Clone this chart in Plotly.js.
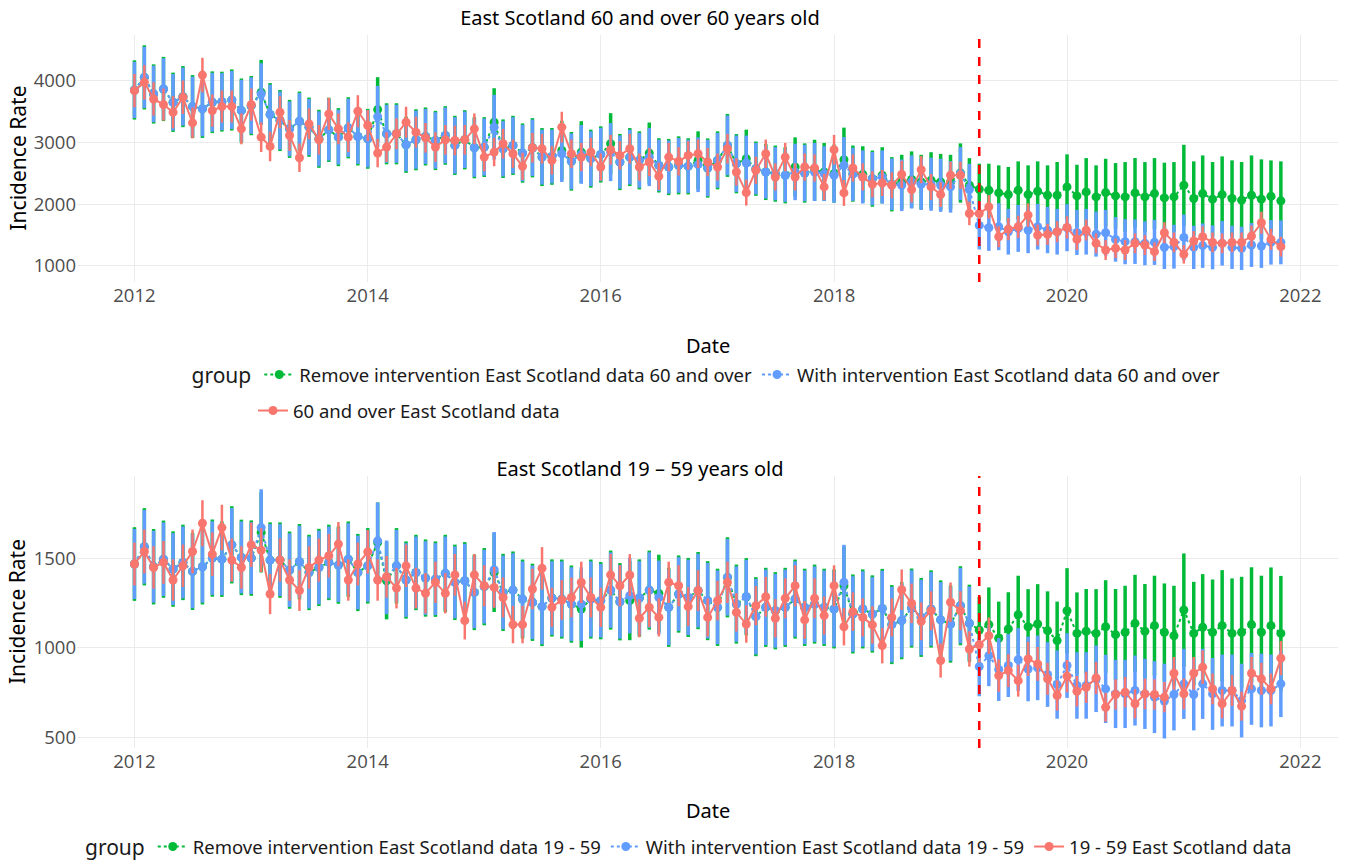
<!DOCTYPE html>
<html><head><meta charset="utf-8">
<script src="https://cdn.plot.ly/plotly-3.0.1.min.js"></script>
<style>
html,body{margin:0;padding:0;background:#fff;}
#top{position:absolute;left:0;top:0;width:1345px;height:440px;}
#bot{position:absolute;left:0;top:440px;width:1345px;height:421px;}
</style>
</head><body><div id="top"></div><div id="bot"></div>
<script>
// ---- categories (monthly, Jan 2012 - Nov 2021) ----
const startYear = 2012, nMonths = 119;
const months = [];
for (let i = 0; i < nMonths; i++) {
  const y = startYear + Math.floor(i / 12), m = i % 12 + 1;
  months.push(y + '-' + String(m).padStart(2, '0') + '-01');
}
const interventionDate = '2019-04-01';
const yearTickVals = ['2012-01-01','2014-01-01','2016-01-01','2018-01-01','2020-01-01','2022-01-01'];
const yearTickText = ['2012','2014','2016','2018','2020','2022'];

// ---- 60 and over ----
const obs60 = [3839,3973,3704,3613,3489,3731,3317,4091,3516,3581, 3581,3220,3613,3086,2936,3489,3113,2753,3301,3043,
  3462,3220,3086,3505,3274,2828,2925,3140,3328,3167, 3075,2925,3043,3032,3043,3220,2763,2844,2979,2817,
  2613,2914,2898,2710,3247,2817,2763,2844,2602,2882, 2790,2898,2602,2683,2452,2763,2694,2790,2817,2683,
  2602,2898,2522,2188,2549,2817,2441,2763,2441,2602, 2586,2280,2882,2183,2586,2441,2323,2344,2306,2484,
  2237,2559,2280,2156,2468,2468,1850,
  1850,1957,1473,1597,1635,1823,1500,1511,1554,1624,1430,1581,1366,1258,1285,1258,1366,1339,1231,1538,1382,1188,1404,1473,1382,1366,1382,1382,1484,1699,1430,1312];
const obs60Err = [270,280,270,260,260,270,250,280,260,260, 260,250,260,240,240,260,250,230,250,240,
  260,250,240,260,250,230,240,250,250,250, 240,240,240,240,240,250,230,230,240,230,
  220,240,240,230,250,230,230,230,220,240, 230,240,220,230,220,230,230,230,230,230,
  220,240,220,210,220,230,220,230,220,220, 220,210,240,210,220,220,210,210,210,220,
  210,220,210,200,220,220,190,
  190,190,170,180,180,190,170,170,170,180,170,170,160,160,160,160,160,160,150,170,160,150,160,170,160,160,160,160,170,180,170,160];
const withInt60 = [3850,4054,3785,3866,3651,3742,3581,3543,3651,3661, 3688,3516,3597,3785,3452,3355,3220,3344,3247,3059,
  3204,3086,3237,3097,3059,3419,3140,3140,2962,3043, 3097,3032,3113,2952,3043,2914,2925,3247,2898,2952,
  2828,2914,2763,2774,2817,2694,2806,2737,2806,2844, 2683,2763,2710,2763,2629,2602,2629,2613,2640,2586,
  2710,2952,2656,2667,2575,2522,2495,2468,2522,2505, 2522,2495,2468,2629,2484,2441,2414,2441,2323,2306,
  2360,2323,2323,2306,2280,2495,2237,
  1657,1619,1635,1554,1608,1581,1635,1581,1554,1619,1543,1554,1516,1538,1430,1393,1393,1366,1382,1301,1312,1462,1301,1328,1301,1366,1301,1285,1339,1323,1382,1382];
const withInt60Err = [455,495,457,497,457,470,484,444,476,462, 470,497,457,497,484,470,444,457,457,444,
  497,444,470,444,462,497,470,470,430,470, 444,457,452,457,457,470,462,524,449,457,
  457,457,444,435,457,452,476,444,430,470, 430,444,444,470,417,430,444,430,444,457,
  444,484,457,444,417,430,430,430,457,457, 470,444,444,457,430,430,430,430,417,417,
  430,417,430,430,417,430,417,
  390,375,380,370,380,375,370,375,370,380,365,370,365,370,360,365,360,355,365,350,355,370,350,360,355,360,350,350,355,355,360,355];
const noInt60 = [3850,4054,3785,3866,3651,3742,3581,3543,3651,3661, 3688,3516,3597,3812,3452,3355,3220,3344,3247,3059,
  3204,3086,3237,3097,3059,3532,3140,3140,2962,3043, 3097,3032,3113,2952,3043,2914,2925,3328,2898,2952,
  2828,2914,2763,2774,2871,2694,2844,2737,2806,2979, 2683,2763,2710,2828,2629,2602,2629,2613,2710,2586,
  2710,2952,2656,2737,2575,2522,2495,2468,2602,2505, 2549,2522,2495,2720,2495,2484,2414,2468,2323,2360,
  2400,2360,2387,2360,2360,2505,2306,
  2242,2226,2183,2156,2226,2156,2210,2145,2145,2280,2134,2199,2118,2188,2134,2118,2183,2118,2172,2102,2118,2306,2092,2172,2081,2156,2092,2065,2145,2081,2129,2054];
const noInt60Err = [480,520,480,520,480,495,510,470,500,485, 495,520,480,525,510,495,470,480,480,470,
  520,470,495,470,485,525,495,495,455,495, 470,480,475,480,480,495,485,550,475,480,
  480,480,470,460,480,475,500,470,455,495, 455,470,470,495,440,455,470,455,470,480,
  470,510,480,470,440,455,455,455,480,480, 495,470,470,520,455,455,455,455,440,440,
  455,440,455,455,440,480,440,
  414,430,446,446,468,473,484,484,538,527,505,548,511,548,532,564,564,564,575,570,564,656,602,618,602,618,618,618,645,645,580,640];

// ---- 19 - 59 ----
const obs1959 = [1467,1537,1448,1476,1378,1457,1537,1694,1522,1670, 1489,1448,1574,1544,1300,1489,1378,1319,1448,1489,
  1513,1578,1378,1467,1535,1378,1396,1333,1457,1333, 1304,1365,1304,1407,1152,1407,1346,1337,1281,1130,
  1130,1328,1443,
  1226,1267,1281,1365,1281,1226,1407,1346,1406,1165, 1226,1170,1365,1346,1230,1319,1170,1263,1365,1198,
  1133,1235,1285,1165,1276,1346,1156,1276,1180,1346, 1118,1202,1170,1128,1013,1170,1324,1248,1148,1207,
  930,1254,1207,994,
  1018,1068,846,874,818,939,911,828,735,843,759,781,833,670,741,754,689,744,741,726,859,744,859,893,772,689,763,676,859,828,772,943];
const obs1959Err = [119,122,118,119,115,118,122,128,121,127, 120,118,123,122,112,120,115,113,118,120,
  121,123,115,119,121,115,116,113,118,113, 112,115,112,116,105,116,114,113,111,104,
  104,113,118,
  109,110,111,115,111,109,116,114,116,106, 109,106,115,114,109,113,106,110,115,107,
  104,109,111,106,111,114,105,111,106,114, 104,107,106,104,99,106,113,110,105,108,
  95,110,108,98,
  99,101,90,92,89,95,94,89,84,90,85,87,89,80,84,85,81,85,84,84,91,85,91,93,86,81,86,81,91,89,86,95];
const withInt1959 = [1467,1563,1452,1494,1439,1476,1426,1452,1500,1494, 1574,1504,1500,1670,1489,1489,1433,1480,1420,1448,
  1476,1461,1494,1420,1457,1596,1393,1457,1378,1420, 1389,1383,1415,1365,1374,1309,1341,1435,1309,1322,
  1272,1254,1230,
  1278,1272,1244,1244,1272,1263,1322,1257,1291,1278, 1322,1281,1226,1300,1281,1319,1263,1226,1393,1244,
  1285,1174,1226,1207,1226,1272,1226,1244,1226,1217, 1365,1189,1217,1189,1220,1130,1152,1222,1170,1217,
  1156,1133,1235,1137,
  896,957,880,902,935,883,889,852,796,902,791,791,828,772,744,744,763,744,726,704,741,800,741,800,744,763,763,707,772,763,763,800];
const withInt1959Err = [195,205,200,205,200,200,205,200,205,200, 205,200,200,213,200,200,205,200,200,205,
  200,205,200,205,200,213,205,200,205,200, 205,200,205,200,205,200,205,210,205,205,
  210,205,210,
  205,210,205,205,210,205,210,205,210,205, 210,205,210,205,210,205,210,205,213,210,
  205,210,210,205,210,210,205,210,205,210, 209,210,210,205,210,210,205,210,210,205,
  210,205,210,205,
  165,170,175,175,175,180,180,180,190,180,185,185,185,190,190,190,195,195,200,208,200,195,200,195,200,200,200,205,200,205,200,185];
const noInt1959 = [1467,1563,1452,1494,1439,1476,1426,1452,1500,1494, 1574,1504,1500,1643,1489,1489,1433,1480,1420,1448,
  1476,1461,1494,1420,1457,1587,1374,1457,1378,1420, 1389,1383,1415,1365,1374,1309,1341,1420,1309,1322,
  1272,1254,1230,
  1278,1272,1244,1217,1272,1263,1322,1257,1263,1278, 1322,1304,1226,1300,1281,1319,1263,1226,1393,1244,
  1285,1174,1226,1207,1226,1272,1226,1244,1226,1217, 1346,1189,1217,1189,1220,1130,1152,1222,1170,1217,
  1156,1133,1235,1137,
  1100,1130,1054,1106,1185,1118,1133,1096,1041,1207,1081,1093,1081,1118,1074,1087,1137,1093,1124,1087,1068,1211,1081,1115,1087,1124,1081,1087,1130,1087,1124,1081];
const noInt1959Err = [205,215,210,215,210,210,215,210,215,210, 215,210,210,223,210,210,215,210,210,215,
  210,215,210,215,210,223,215,210,215,210, 215,210,215,210,215,210,215,220,215,215,
  220,215,220,
  215,220,215,215,220,215,220,215,220,215, 220,215,220,215,220,215,220,215,223,220,
  215,220,220,215,220,220,215,220,215,220, 219,220,220,215,220,220,215,220,220,215,
  220,215,220,215,
  185,207,204,204,217,209,222,219,217,237,228,235,246,259,254,259,270,263,278,272,278,315,287,296,294,309,306,309,319,315,324,320];

const GREEN = '#00BA38', BLUE = '#619CFF', RED = '#F8766D';
const TXT = 'Noto Sans, sans-serif';
const TICK = 'Open Sans, sans-serif';

function modelTrace(name, y, err, color) {
  return {x: months, y: y, name: name, type: 'scatter', mode: 'lines+markers',
    line: {color: color, width: 2, dash: 'dot'}, marker: {color: color, size: 9},
    error_y: {type: 'data', array: err, visible: true, color: color, thickness: 3.5, width: 0}};
}
function obsTrace(name, y, err, legendId) {
  return {x: months, y: y, name: name, type: 'scatter', mode: 'lines+markers', legend: legendId,
    line: {color: RED, width: 2}, marker: {color: RED, size: 9},
    error_y: {type: 'data', array: err, visible: true, color: RED, thickness: 2.5, width: 0}};
}

const legendFont = {family: TXT, size: 18.5, color: '#1a1a1a'};
const legendTitle = {text: 'group', side: 'left', font: {family: TXT, size: 21, color: '#1a1a1a'}};

function makeLayout(o) {
  const lay = {
    width: 1345, height: o.height,
    margin: {l: 77, r: 7, t: o.t, b: o.b},
    paper_bgcolor: '#fff', plot_bgcolor: '#fff',
    showlegend: true,
    title: {text: o.title, x: 640 / 1345, xref: 'container', xanchor: 'center',
      y: 1 - o.titleY / o.height, yref: 'container', yanchor: 'middle',
      font: {family: TXT, size: 20, color: '#000'}},
    xaxis: {type: 'date', range: ['2011-07-05', '2022-04-29'], tickvals: yearTickVals, ticktext: yearTickText,
      showgrid: true, gridcolor: '#ebebeb', gridwidth: 1, zeroline: false, showline: false, ticks: '',
      tickfont: {family: TICK, size: 18.5, color: '#4d4d4d'}},
    yaxis: {range: o.yrange, tickvals: o.yticks, showgrid: true, gridcolor: '#ebebeb', gridwidth: 1,
      zeroline: false, showline: false, ticks: '',
      tickfont: {family: TICK, size: 18.5, color: '#4d4d4d'}},
    legend: {orientation: 'h', x: o.legendX, xanchor: 'center', y: 1 - o.legendTop / o.height, yref: 'container', yanchor: 'top',
      title: legendTitle, font: legendFont, bgcolor: 'rgba(0,0,0,0)'},
    annotations: [
      {text: 'Date', xref: 'paper', yref: 'paper', x: 0.5, y: o.dateY, xanchor: 'center', yanchor: 'middle',
        showarrow: false, font: {family: TXT, size: 20, color: '#000'}},
      {text: 'Incidence Rate', xref: 'paper', yref: 'paper', x: -60 / 1261, y: 0.5, xanchor: 'center', yanchor: 'middle',
        textangle: -90, showarrow: false, font: {family: TXT, size: 21, color: '#000'}}
    ],
    shapes: [{type: 'line', xref: 'x', yref: 'paper', x0: interventionDate, x1: interventionDate, y0: 0, y1: 1,
      line: {color: '#FF0000', width: 2.5, dash: 'dash'}, layer: 'above'}]
  };
  if (o.legend2Top) {
    lay.legend2 = {orientation: 'h', x: o.legend2X, xanchor: 'left', y: 1 - o.legend2Top / o.height, yref: 'container',
      yanchor: 'top', font: legendFont, bgcolor: 'rgba(0,0,0,0)'};
  }
  return lay;
}

const topData = [
  modelTrace('Remove intervention East Scotland data 60 and over', noInt60, noInt60Err, GREEN),
  modelTrace('With intervention East Scotland data 60 and over', withInt60, withInt60Err, BLUE),
  obsTrace('60 and over East Scotland data', obs60, obs60Err, 'legend2')
];
const botData = [
  modelTrace('Remove intervention East Scotland data 19 - 59', noInt1959, noInt1959Err, GREEN),
  modelTrace('With intervention East Scotland data 19 - 59', withInt1959, withInt1959Err, BLUE),
  obsTrace('19 - 59 East Scotland data', obs1959, obs1959Err, 'legend')
];

Plotly.newPlot('top', topData, makeLayout({height: 440, t: 35, b: 158, title: 'East Scotland 60 and over 60 years old',
  titleY: 18, yrange: [740, 4740], yticks: [1000, 2000, 3000, 4000], legendTop: 356, legendX: 0.5,
  legend2Top: 392, legend2X: (253 - 77) / 1261, dateY: -63 / 247}),
  {staticPlot: true, displayModeBar: false});
Plotly.newPlot('bot', botData, makeLayout({height: 421, t: 36, b: 113, title: 'East Scotland 19 – 59 years old',
  titleY: 29, yrange: [443, 1957], yticks: [500, 1000, 1500], legendTop: 388, legendX: (690 - 77) / 1261,
  dateY: -62 / 272}),
  {staticPlot: true, displayModeBar: false});
</script>
</body></html>
